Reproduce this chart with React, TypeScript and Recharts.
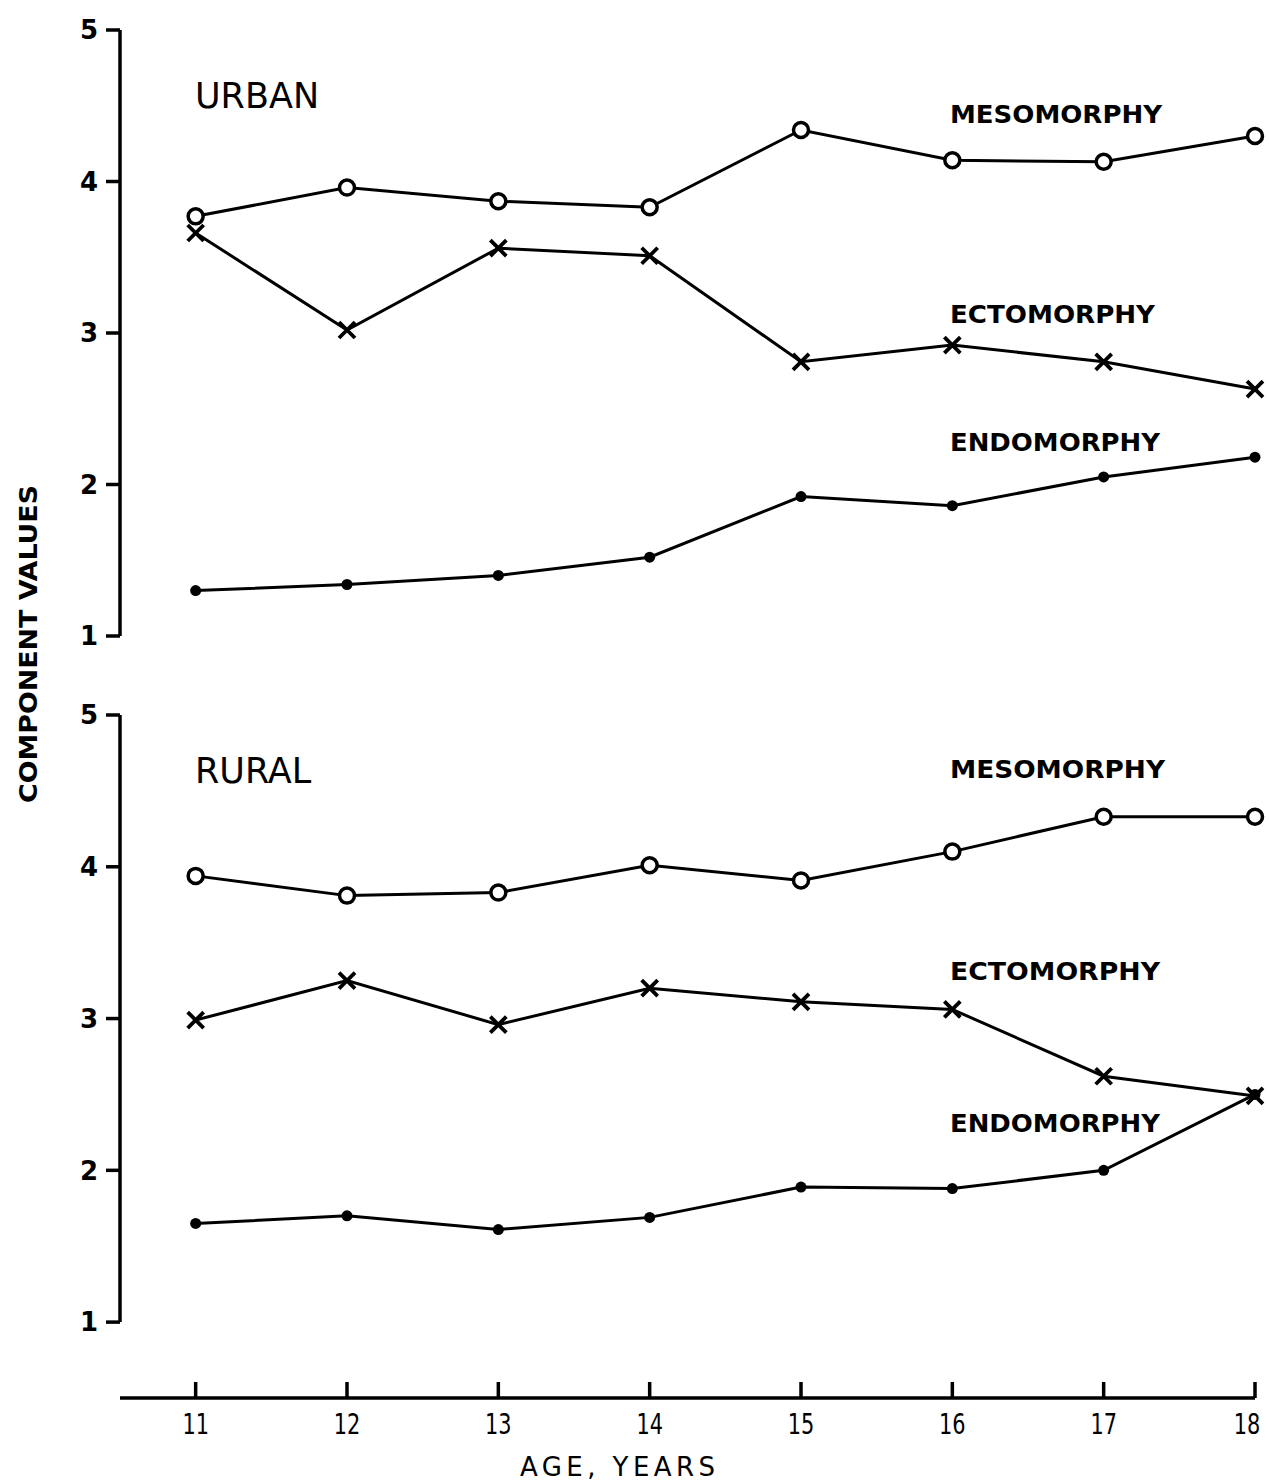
import { LineChart, Line, XAxis, YAxis, ReferenceLine } from 'recharts';

// ages on the shared x axis
const ages = [11, 12, 13, 14, 15, 16, 17, 18];
const yTicks = [1, 2, 3, 4, 5];

// urban somatotype components
const urbanMeso = [3.77, 3.96, 3.87, 3.83, 4.34, 4.14, 4.13, 4.3];
const urbanEcto = [3.66, 3.02, 3.56, 3.51, 2.81, 2.92, 2.81, 2.63];
const urbanEndo = [1.3, 1.34, 1.4, 1.52, 1.92, 1.86, 2.05, 2.18];

// rural somatotype components
const ruralMeso = [3.94, 3.81, 3.83, 4.01, 3.91, 4.1, 4.33, 4.33];
const ruralEcto = [2.99, 3.25, 2.96, 3.2, 3.11, 3.06, 2.62, 2.49];
const ruralEndo = [1.65, 1.7, 1.61, 1.69, 1.89, 1.88, 2.0, 2.5];

const FONT = '"DejaVu Sans", sans-serif';
const INK = '#000';

function buildRows(meso: number[], ecto: number[], endo: number[]) {
  return ages.map((age, i) => ({ age, meso: meso[i], ecto: ecto[i], endo: endo[i] }));
}

const urbanRows = buildRows(urbanMeso, urbanEcto, urbanEndo);
const ruralRows = buildRows(ruralMeso, ruralEcto, ruralEndo);

/* markers */
function CircleDot({ cx, cy }: any) {
  if (cx == null || cy == null) return null;
  return <circle cx={cx} cy={cy} r={7.5} fill="#fff" stroke={INK} strokeWidth={3.5} />;
}

function CrossDot({ cx, cy }: any) {
  if (cx == null || cy == null) return null;
  const s = 8;
  return (
    <path
      d={`M${cx - s},${cy - s}L${cx + s},${cy + s}M${cx - s},${cy + s}L${cx + s},${cy - s}`}
      stroke={INK}
      strokeWidth={3.8}
      fill="none"
    />
  );
}

function SolidDot({ cx, cy }: any) {
  if (cx == null || cy == null) return null;
  return <circle cx={cx} cy={cy} r={5.5} fill={INK} />;
}

/* x tick: short mark above the axis, tall narrow number below */
function AgeTick({ x, y, payload }: any) {
  const lx = Math.min(x, 1247); // keep the last label inside the page
  return (
    <g>
      <line x1={x} x2={x} y1={y} y2={y - 16} stroke={INK} strokeWidth={3.5} />
      <text
        transform={`translate(${lx},${y + 36}) scale(0.72,1)`}
        textAnchor="middle"
        fontSize={29}
        fontFamily={FONT}
        fill={INK}
      >
        {payload.value}
      </text>
    </g>
  );
}

function SeriesLines() {
  return [
    <Line
      key="meso"
      dataKey="meso"
      stroke={INK}
      strokeWidth={3}
      dot={<CircleDot />}
      activeDot={false}
      isAnimationActive={false}
    />,
    <Line
      key="ecto"
      dataKey="ecto"
      stroke={INK}
      strokeWidth={3}
      dot={<CrossDot />}
      activeDot={false}
      isAnimationActive={false}
    />,
    <Line
      key="endo"
      dataKey="endo"
      stroke={INK}
      strokeWidth={3}
      dot={<SolidDot />}
      activeDot={false}
      isAnimationActive={false}
    />,
  ];
}

const yTickStyle = { fill: INK, fontSize: 26, fontFamily: FONT, fontWeight: 'bold' };

export default function App() {
  return (
    <div
      style={{
        position: 'absolute',
        left: 0,
        top: 0,
        width: 1269,
        height: 1484,
        background: '#fff',
        fontFamily: FONT,
      }}
    >
      {/* Urban panel */}
      <div style={{ position: 'absolute', left: 0, top: 0 }}>
        <LineChart width={1269} height={660} data={urbanRows} margin={{ top: 30, right: 14, left: 60, bottom: 24 }}>
          <XAxis dataKey="age" type="number" domain={[10.5, 18]} hide />
          <YAxis
            type="number"
            domain={[1, 5]}
            ticks={yTicks}
            interval={0}
            width={60}
            tickSize={14}
            tickMargin={8}
            axisLine={{ stroke: INK, strokeWidth: 3.5 }}
            tickLine={{ stroke: INK, strokeWidth: 3.5 }}
            tick={yTickStyle}
          />
          {SeriesLines()}
        </LineChart>
      </div>

      {/* Rural panel, carries the shared age axis */}
      <div style={{ position: 'absolute', left: 0, top: 680 }}>
        <LineChart width={1269} height={804} data={ruralRows} margin={{ top: 35, right: 14, left: 60, bottom: 26 }}>
          <XAxis
            dataKey="age"
            type="number"
            domain={[10.5, 18]}
            ticks={ages}
            interval={0}
            height={60}
            tickSize={0}
            tickMargin={0}
            tickLine={false}
            axisLine={{ stroke: INK, strokeWidth: 3.5 }}
            tick={<AgeTick />}
          />
          <YAxis
            type="number"
            domain={[0.5, 5]}
            ticks={yTicks}
            interval={0}
            width={60}
            tickSize={14}
            tickMargin={8}
            axisLine={false}
            tickLine={{ stroke: INK, strokeWidth: 3.5 }}
            tick={yTickStyle}
          />
          <ReferenceLine
            segment={[
              { x: 10.5, y: 1 },
              { x: 10.5, y: 5 },
            ]}
            stroke={INK}
            strokeWidth={3.5}
          />
          {SeriesLines()}
        </LineChart>
      </div>

      {/* annotations */}
      <svg
        width={1269}
        height={1484}
        style={{ position: 'absolute', left: 0, top: 0, pointerEvents: 'none' }}
        fontFamily={FONT}
        fill={INK}
      >
        <text x={195} y={108} fontSize={35}>URBAN</text>
        <text x={950} y={123} fontSize={24} fontWeight="bold" textLength={212} lengthAdjust="spacingAndGlyphs">MESOMORPHY</text>
        <text x={950} y={323} fontSize={24} fontWeight="bold" textLength={205} lengthAdjust="spacingAndGlyphs">ECTOMORPHY</text>
        <text x={950} y={451} fontSize={24} fontWeight="bold" textLength={210} lengthAdjust="spacingAndGlyphs">ENDOMORPHY</text>

        <text x={195} y={783} fontSize={35}>RURAL</text>
        <text x={950} y={778} fontSize={24} fontWeight="bold" textLength={215} lengthAdjust="spacingAndGlyphs">MESOMORPHY</text>
        <text x={950} y={980} fontSize={24} fontWeight="bold" textLength={210} lengthAdjust="spacingAndGlyphs">ECTOMORPHY</text>
        <text x={950} y={1132} fontSize={24} fontWeight="bold" textLength={210} lengthAdjust="spacingAndGlyphs">ENDOMORPHY</text>

        <text
          x={28}
          y={644}
          fontSize={25}
          fontWeight="bold"
          textAnchor="middle"
          dominantBaseline="central"
          textLength={318}
          lengthAdjust="spacingAndGlyphs"
          transform="rotate(-90 28 644)"
        >
          COMPONENT VALUES
        </text>
        <text x={520} y={1476} fontSize={26} textLength={195} lengthAdjust="spacing">
          AGE, YEARS
        </text>
      </svg>
    </div>
  );
}
